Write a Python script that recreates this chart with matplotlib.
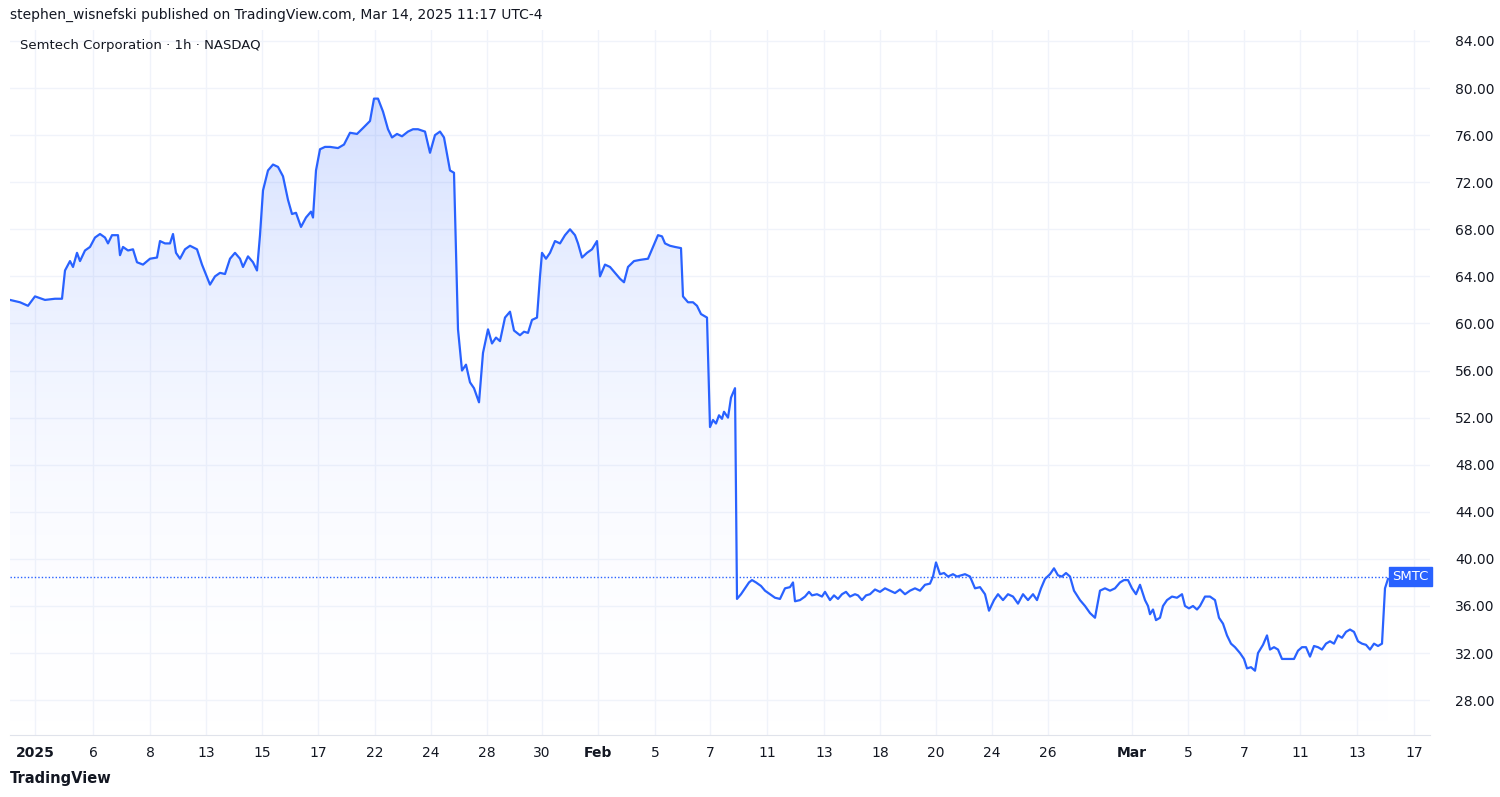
import matplotlib
matplotlib.use("Agg")
import matplotlib.pyplot as plt
import numpy as np
from matplotlib.patches import Polygon
from matplotlib.colors import LinearSegmentedColormap

px = [10,20,28,35,45,55,62,65,70,73,77,80,85,90,95,100,105,108,112,118,120,123,128,133,137,143,150,157,160,165,170,173,176,180,185,190,197,202,210,215,220,225,230,235,240,243,248,253,257,260,263,268,273,278,283,288,292,296,301,306,311,313,316,320,325,330,338,344,350,357,363,370,374,378,383,388,392,397,402,408,413,418,425,430,435,440,444,450,454,458,462,466,470,474,479,483,488,492,496,500,505,510,514,520,524,528,532,537,540,542,546,550,555,560,565,570,575,578,582,587,592,597,600,605,610,615,620,624,628,634,640,648,653,658,662,665,670,675,681,683,688,693,697,701,707,710,713,716,719,722,724,728,731,735,737,741,745,749,752,756,761,765,770,775,780,785,790,793,795,800,805,809,812,817,822,825,830,834,838,842,846,850,855,858,862,866,870,875,880,885,890,895,900,905,910,915,920,925,930,933,936,940,944,948,953,957,961,965,970,975,980,985,989,994,998,1003,1008,1013,1018,1023,1028,1033,1037,1041,1045,1050,1054,1058,1062,1066,1070,1074,1080,1085,1090,1095,1100,1105,1110,1115,1120,1124,1128,1132,1136,1140,1145,1148,1150,1153,1156,1160,1163,1167,1172,1177,1182,1185,1189,1193,1197,1200,1205,1210,1215,1219,1223,1227,1231,1235,1240,1244,1247,1251,1255,1258,1263,1267,1270,1274,1278,1282,1286,1290,1294,1298,1302,1306,1310,1314,1318,1322,1326,1330,1334,1338,1342,1346,1350,1354,1358,1362,1366,1370,1374,1378,1382,1385,1388]
price = [62.0,61.8,61.5,62.3,62.0,62.1,62.1,64.5,65.3,64.8,66.0,65.3,66.2,66.5,67.3,67.6,67.3,66.8,67.5,67.5,65.8,66.5,66.2,66.3,65.2,65.0,65.5,65.6,67.0,66.8,66.8,67.6,66.0,65.5,66.3,66.6,66.3,65.0,63.3,64.0,64.3,64.2,65.5,66.0,65.5,64.8,65.7,65.2,64.5,67.5,71.3,73.0,73.5,73.3,72.5,70.5,69.3,69.4,68.2,69.0,69.5,69.0,73.0,74.8,75.0,75.0,74.9,75.2,76.2,76.1,76.6,77.2,79.1,79.1,78.0,76.5,75.8,76.1,75.9,76.3,76.5,76.5,76.3,74.5,76.0,76.3,75.8,73.0,72.8,59.5,56.0,56.5,55.0,54.5,53.3,57.5,59.5,58.3,58.8,58.5,60.5,61.0,59.4,59.0,59.3,59.2,60.3,60.5,64.0,66.0,65.5,66.0,67.0,66.8,67.5,68.0,67.5,66.8,65.6,66.0,66.3,67.0,64.0,65.0,64.8,64.3,63.8,63.5,64.8,65.3,65.4,65.5,66.5,67.5,67.4,66.8,66.6,66.5,66.4,62.3,61.8,61.8,61.5,60.8,60.5,51.2,51.8,51.5,52.2,51.9,52.5,52.0,53.7,54.5,36.6,37.0,37.5,38.0,38.2,38.0,37.7,37.3,37.0,36.7,36.6,37.5,37.6,38.0,36.4,36.5,36.8,37.2,36.9,37.0,36.8,37.2,36.5,36.9,36.6,37.0,37.2,36.8,37.0,36.9,36.5,36.9,37.0,37.4,37.2,37.5,37.3,37.1,37.4,37.0,37.3,37.5,37.3,37.8,37.9,38.5,39.7,38.7,38.8,38.5,38.7,38.5,38.6,38.7,38.5,37.5,37.6,37.0,35.6,36.5,37.0,36.5,37.0,36.8,36.2,37.0,36.5,37.0,36.5,37.5,38.3,38.7,39.2,38.6,38.5,38.8,38.5,37.3,36.5,36.0,35.4,35.0,37.3,37.5,37.3,37.5,38.0,38.2,38.2,37.5,37.0,37.8,36.5,36.0,35.3,35.7,34.8,35.0,36.0,36.5,36.8,36.7,37.0,36.0,35.8,36.0,35.7,36.0,36.8,36.8,36.5,35.0,34.5,33.5,32.8,32.5,32.0,31.5,30.7,30.8,30.5,32.0,32.7,33.5,32.3,32.5,32.3,31.5,31.5,31.5,31.5,32.2,32.5,32.5,31.7,32.6,32.5,32.3,32.8,33.0,32.8,33.5,33.3,33.8,34.0,33.8,33.0,32.8,32.7,32.3,32.8,32.6,32.8,37.5,38.3]
tick_px = [35,93,150,206,262,318,375,431,487,542,598,655,710,767,824,880,936,992,1048,1132,1188,1244,1300,1357,1414]
tick_labels = ["2025","6","8","13","15","17","22","24","28","30","Feb","5","7","11","13","18","20","24","26","Mar","5","7","11","13","17"]
y_ticks = [28,32,36,40,44,48,52,56,60,64,68,72,76,80,84]
last_price = 38.5

x = np.array(px, float); y = np.array(price)
blue = "#2962ff"
fig = plt.figure(figsize=(15, 7.97), dpi=100)
ax = fig.add_axes([10/1500, 1-735/797, 1420/1500, 705/797])
ymin, ymax = 25.04, 84.93
ax.set_xlim(10, 1430); ax.set_ylim(ymin, ymax)

grad = np.linspace(0, 1, 256).reshape(-1, 1)
cmap = LinearSegmentedColormap.from_list("g", [(1,1,1,0.0),(0.16,0.38,1.0,0.2)])
im = ax.imshow(grad, extent=[10, 1430, ymin, max(price)], aspect="auto", origin="lower", cmap=cmap, zorder=1)
poly = Polygon(np.vstack([[x[0], ymin], np.column_stack([x, y]), [x[-1], ymin]]), closed=True, transform=ax.transData, facecolor="none", edgecolor="none")
ax.add_patch(poly); im.set_clip_path(poly)
ax.plot(x, y, color=blue, lw=1.6, zorder=3)
ax.axhline(last_price, color=blue, lw=1, ls=(0, (1, 1.5)), zorder=2)

ax.set_yticks(y_ticks)
ax.set_xticks(tick_px)
ax.grid(True, color="#f0f3fa", lw=1)
ax.set_axisbelow(True)
ax.yaxis.tick_right()
ax.set_yticklabels([f"{v:.2f}" for v in y_ticks], fontsize=10, color="#131722")
ax.set_xticklabels(tick_labels, fontsize=10, color="#131722")
for lbl in ax.get_xticklabels():
    if lbl.get_text() in ("2025", "Feb", "Mar"):
        lbl.set_fontweight("bold")
ax.tick_params(length=0, pad=8)
ax.tick_params(axis="y", pad=18)
for s in ["top", "left", "right"]:
    ax.spines[s].set_visible(False)
ax.spines["bottom"].set_color("#e0e3eb")

ax.text(1392/1420 * 0 + 1392, last_price, "SMTC", transform=ax.transData, ha="left", va="center", fontsize=9.5, color="white",
        bbox=dict(boxstyle="square,pad=0.25", fc=blue, ec=blue), clip_on=False, zorder=5)
fig.text(10/1500, 1-15/797, "stephen_wisnefski published on TradingView.com, Mar 14, 2025 11:17 UTC-4", fontsize=10, va="center", color="#131722")
fig.text(20/1500, 1-46/797, "Semtech Corporation · 1h · NASDAQ", fontsize=9.5, va="center", color="#131722")
fig.text(10/1500, 1-778/797, "TradingView", fontsize=10.5, fontweight="bold", va="center", color="#131722")
fig.savefig("out.png", dpi=100)
